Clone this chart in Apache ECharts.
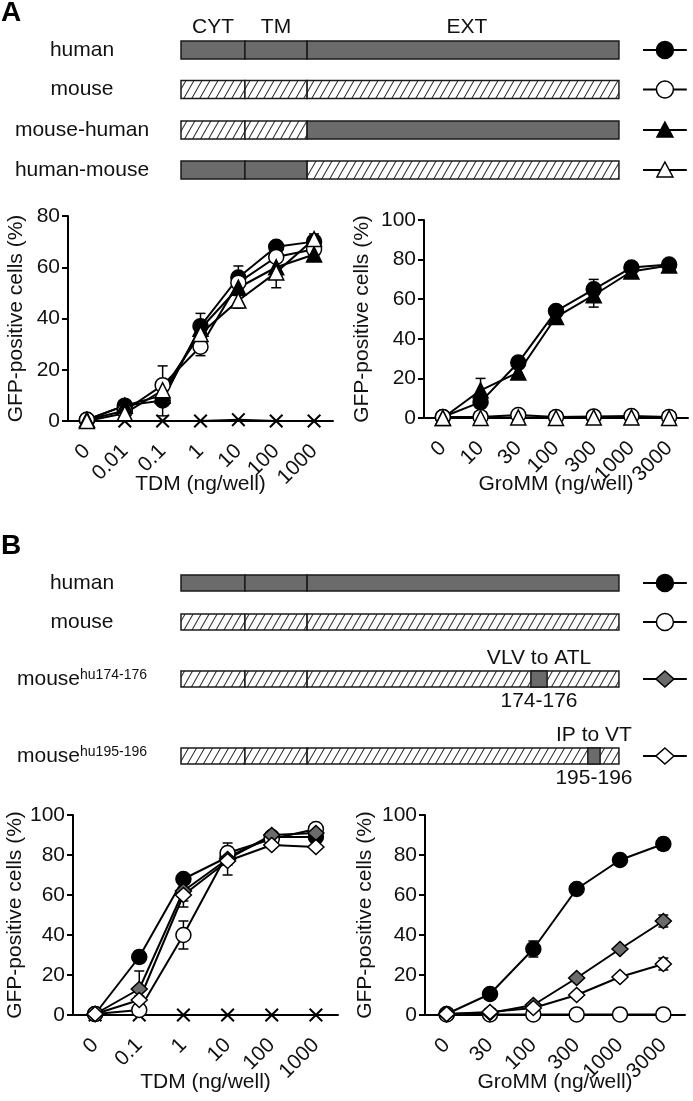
<!DOCTYPE html>
<html>
<head>
<meta charset="utf-8">
<script src="https://cdn.jsdelivr.net/npm/echarts@6/dist/echarts.min.js"></script>
<style>
html, body { margin: 0; background: #fff; }
#chart { width: 693px; height: 1101px; }
</style>
</head>
<body>
<div id="chart"></div>
<script>
// receptor schematic: domain edges along the bar, in % of its length
const domainNames = ['CYT', 'TM', 'EXT'];
const domainEdges = [0, 14.6, 28.8, 100];

const constructsA = ['human', 'mouse', 'mouse-human', 'human-mouse'];
const originA = [['hu', 'hu', 'hu'], ['mo', 'mo', 'mo'], ['mo', 'mo', 'hu'], ['hu', 'hu', 'mo']];
const markerA = ['circle', 'circle', 'triangle', 'triangle'];
const fillA = ['#000', '#fff', '#000', '#fff'];

const constructsB = ['human', 'mouse', 'mouse', 'mouse'];
const superB = ['', '', 'hu174-176', 'hu195-196'];
const originB = [['hu', 'hu', 'hu'], ['mo', 'mo', 'mo'], ['mo', 'mo', 'mo'], ['mo', 'mo', 'mo']];
const swapFrom = [null, null, 79.9, 92.9];
const swapTo = [null, null, 83.6, 95.7];
const swapAbove = ['', '', 'VLV to ATL', 'IP to VT'];
const swapBelow = ['', '', '174-176', '195-196'];
const markerB = ['circle', 'circle', 'diamond', 'diamond'];
const fillB = ['#000', '#fff', '#6b6b6b', '#fff'];

// dose response, GFP-positive cells (%)
const tdmDosesA = ['0', '0.01', '0.1', '1', '10', '100', '1000'];
const tdmA = [
  [0.5, 6, 8, 37, 56, 68, 70],    // human
  [0.5, 4, 14, 29, 54, 64, 67],   // mouse
  [0.5, 6, 10, 36, 52, 60, 65],   // mouse-human
  [0, 3, 12, 34, 47, 58, 71]      // human-mouse
];
const tdmErrA = [
  [0.5, 1, 6, 5, 4.5, 1.5, 2],
  [0.5, 1, 7.5, 3.5, 3, 2, 2],
  [0.5, 1, 3, 3, 3, 2, 2],
  [0.5, 1, 3, 3, 3, 6, 2]
];
const tdmNegA = [0, 0, 0, 0, 0.5, 0, 0];

const groDosesA = ['0', '10', '30', '100', '300', '1000', '3000'];
const groA = [
  [0.5, 8, 28, 54, 65, 76, 77.5],
  [0.5, 0.5, 1.5, 0.5, 0.8, 1, 0.5],
  [0, 14, 23, 51, 62, 74, 77],
  [0, 0, 0.3, 0, 0.3, 0.3, 0]
];
const groErrA = [
  [0.5, 3, 3, 2, 5, 1.5, 2],
  [0.5, 1, 1.5, 1, 1.5, 1.5, 1],
  [0.5, 6, 2, 2, 6, 1.5, 2],
  [0.5, 0.5, 0.5, 0.5, 0.5, 0.5, 0.5]
];
const groNegA = [0, 0, 0, 0, 0, 0, 0];

const tdmDosesB = ['0', '0.1', '1', '10', '100', '1000'];
const tdmB = [
  [0.5, 29, 68, 79, 89, 89],      // human
  [0.5, 2.5, 40, 81, 88, 93],     // mouse
  [0.5, 13, 62, 78, 90, 91],      // mouse hu174-176
  [0.5, 7.5, 60, 77, 85, 84]      // mouse hu195-196
];
const tdmErrB = [
  [0.5, 3, 2, 2, 1.5, 2],
  [0.5, 1, 7, 5, 1.5, 1.5],
  [0.5, 9, 8, 3, 1.5, 1.5],
  [0.5, 2, 3, 7, 1.5, 1.5]
];
const tdmNegB = [0, 0, 0, 0, 0, 0];

const groDosesB = ['0', '30', '100', '300', '1000', '3000'];
const groB = [
  [0.5, 10.5, 33, 63, 77.5, 85.5],
  [0.3, 0.3, 0.3, 0.3, 0.3, 0.3],
  [0.5, 1, 5, 18.5, 33, 47],
  [0.5, 1.5, 3.5, 10, 19, 25.5]
];
const groErrB = [
  [0.5, 1, 4, 1.5, 1.5, 3],
  [0.5, 0.5, 0.5, 0.5, 0.5, 0.5],
  [0.5, 0.5, 1, 1.5, 1.5, 3],
  [0.5, 0.5, 1, 1.5, 1.5, 3]
];

const FONT = 'Liberation Sans, Arial, sans-serif';
const INK = '#111';
const GREY = '#6b6b6b';
const crossPath = 'path://M2,0L10,8L18,0L20,2L12,10L20,18L18,20L10,12L2,20L0,18L8,10L0,2Z';

// diagonal hatch tile
const tile = document.createElement('canvas');
tile.width = 8; tile.height = 14;
const tc = tile.getContext('2d');
tc.fillStyle = '#fff'; tc.fillRect(0, 0, 8, 14);
tc.strokeStyle = '#333'; tc.lineWidth = 1.1;
tc.beginPath();
tc.moveTo(0, 14); tc.lineTo(8, 0);
tc.moveTo(-1, 1.75); tc.lineTo(1, -1.75);
tc.moveTo(7, 15.75); tc.lineTo(9, 12.25);
tc.stroke();
const hatch = { image: tile, repeat: 'repeat' };

function markerShape(kind, fill, cx, cy) {
  const style = { fill: fill, stroke: '#000', lineWidth: 1.5 };
  if (kind === 'circle') return { type: 'circle', shape: { cx: cx, cy: cy, r: 8.5 }, style: style };
  if (kind === 'triangle') return { type: 'polygon', shape: { points: [[cx, cy - 8], [cx + 8, cy + 7], [cx - 8, cy + 7]] }, style: style };
  return { type: 'polygon', shape: { points: [[cx, cy - 8], [cx + 9, cy], [cx, cy + 8], [cx - 9, cy]] }, style: style };
}

function txt(text, x, y) {
  return { type: 'text', style: { text: text, x: x, y: y, align: 'center', verticalAlign: 'middle', font: '21px ' + FONT, fill: INK } };
}

function schematicSeries(g, origins, marker, fill, k, heads) {
  return {
    type: 'custom', xAxisIndex: g, yAxisIndex: g, silent: true, data: [[0, 0]],
    renderItem: function (params, api) {
      const cs = params.coordSys;
      const top = cs.y, h = cs.height, cy = top + h / 2;
      const px = v => api.coord([v, 0])[0];
      const kids = [];
      for (let i = 0; i < domainNames.length; i++) {
        const x0 = px(domainEdges[i]), x1 = px(domainEdges[i + 1]);
        kids.push({ type: 'rect', shape: { x: x0, y: top, width: x1 - x0, height: h },
          style: { fill: origins[i] === 'hu' ? GREY : hatch, stroke: '#1a1a1a', lineWidth: 1.5 } });
        if (heads) kids.push(txt(domainNames[i], (x0 + x1) / 2 + (i === 2 ? 4 : 0), top - 14));
      }
      if (k != null && swapFrom[k] != null) {
        const s0 = px(swapFrom[k]), s1 = px(swapTo[k]);
        kids.push({ type: 'rect', shape: { x: s0, y: top, width: s1 - s0, height: h },
          style: { fill: GREY, stroke: '#1a1a1a', lineWidth: 1.5 } });
        kids.push(txt(swapAbove[k], (s0 + s1) / 2, cy - 21));
        kids.push(txt(swapBelow[k], (s0 + s1) / 2, cy + 22));
      }
      kids.push({ type: 'line', shape: { x1: px(105.5), y1: cy, x2: px(115.5), y2: cy }, style: { stroke: '#000', lineWidth: 2 } });
      kids.push(markerShape(marker, fill, px(110.5), cy));
      return { type: 'group', children: kids };
    }
  };
}

function errorSeries(g, values, errors) {
  const data = [];
  values.forEach((vals, s) => vals.forEach((v, i) => data.push([i, v, errors[s][i]])));
  return {
    type: 'custom', xAxisIndex: g, yAxisIndex: g, z: 2, silent: true, data: data,
    encode: { x: 0, y: 1 },
    renderItem: function (params, api) {
      const i = api.value(0), v = api.value(1), e = api.value(2);
      const hi = api.coord([i, v + e]), lo = api.coord([i, Math.max(0, v - e)]);
      const st = { stroke: '#000', lineWidth: 1.5 };
      return { type: 'group', children: [
        { type: 'line', shape: { x1: hi[0], y1: hi[1], x2: lo[0], y2: lo[1] }, style: st },
        { type: 'line', shape: { x1: hi[0] - 5, y1: hi[1], x2: hi[0] + 5, y2: hi[1] }, style: st },
        { type: 'line', shape: { x1: lo[0] - 5, y1: lo[1], x2: lo[0] + 5, y2: lo[1] }, style: st }
      ] };
    }
  };
}

function doseSeries(g, values, markers, fills, neg) {
  const out = [];
  if (neg) out.push({ type: 'line', xAxisIndex: g, yAxisIndex: g, z: 3, data: neg, symbol: crossPath, symbolSize: 14,
    itemStyle: { color: '#000' }, lineStyle: { color: '#000', width: 2 } });
  values.forEach((vals, s) => out.push({
    type: 'line', xAxisIndex: g, yAxisIndex: g, z: 3, data: vals, symbol: markers[s],
    symbolSize: markers[s] === 'diamond' ? [16, 15] : 15, showAllSymbol: true,
    itemStyle: { color: fills[s], borderColor: '#000', borderWidth: 1.5 },
    lineStyle: { color: '#000', width: 2 }
  }));
  return out;
}

const rowsA = [50, 89.5, 130, 170];
const rowsB = [583, 622, 679, 756];
const grids = [];
const xAxes = [];
const yAxes = [];
const series = [];

function addRow(center, h, label, sup, origins, marker, fill, k, heads) {
  const g = grids.length;
  grids.push({ left: 181, top: center - h / 2, width: 508, height: h, outerBoundsMode: 'none' });
  xAxes.push({ gridIndex: g, type: 'value', min: 0, max: 116, show: false });
  yAxes.push({ gridIndex: g, type: 'category', data: [label],
    axisLine: { show: false }, axisTick: { show: false },
    axisLabel: { align: 'center', margin: 99, fontFamily: FONT, fontSize: 21, color: INK,
      formatter: v => sup ? '{m|' + v + '}{s|' + sup + '}' : v,
      rich: { m: { fontFamily: FONT, fontSize: 21, color: INK },
              s: { fontFamily: FONT, fontSize: 14, color: INK, verticalAlign: 'top' } } } });
  series.push(schematicSeries(g, origins, marker, fill, k, heads));
}

constructsA.forEach((c, i) => addRow(rowsA[i], 18, c, '', originA[i], markerA[i], fillA[i], null, i === 0));
constructsB.forEach((c, i) => addRow(rowsB[i], 16, c, superB[i], originB[i], markerB[i], fillB[i], i, false));

function addChart(box, cats, yMax, xName, xGap, yGap, values, errors, markers, fills, neg) {
  const g = grids.length;
  box.outerBoundsMode = 'none';
  grids.push(box);
  xAxes.push({ gridIndex: g, type: 'category', data: cats,
    name: xName, nameLocation: 'middle', nameGap: xGap, nameMoveOverlap: false,
    nameTextStyle: { fontFamily: FONT, fontSize: 21, color: INK },
    axisLine: { lineStyle: { color: '#000', width: 2 } },
    axisTick: { length: 6, lineStyle: { color: '#000', width: 2 } },
    axisLabel: { interval: 0, rotate: 45, margin: 27, fontFamily: FONT, fontSize: 21, color: INK } });
  yAxes.push({ gridIndex: g, type: 'value', min: 0, max: yMax, interval: 20,
    name: 'GFP-positive cells (%)', nameLocation: 'middle', nameGap: yGap, nameMoveOverlap: false,
    nameTextStyle: { fontFamily: FONT, fontSize: 21, color: INK },
    axisLine: { show: true, lineStyle: { color: '#000', width: 2 } },
    axisTick: { show: true, length: 6, lineStyle: { color: '#000', width: 2 } },
    axisLabel: { margin: 8, fontFamily: FONT, fontSize: 21, color: INK },
    splitLine: { show: false } });
  series.push(errorSeries(g, values, errors));
  doseSeries(g, values, markers, fills, neg).forEach(s => series.push(s));
}

addChart({ left: 68, top: 216, width: 265, height: 205 }, tdmDosesA, 80, 'TDM (ng/well)', 53, 41, tdmA, tdmErrA, markerA, fillA, tdmNegA);
addChart({ left: 424, top: 220, width: 264, height: 198 }, groDosesA, 100, 'GroMM (ng/well)', 56, 51, groA, groErrA, markerA, fillA, groNegA);
addChart({ left: 73, top: 815, width: 265, height: 200 }, tdmDosesB, 100, 'TDM (ng/well)', 57, 47, tdmB, tdmErrB, markerB, fillB, tdmNegB);
addChart({ left: 425, top: 815, width: 260, height: 200 }, groDosesB, 100, 'GroMM (ng/well)', 57, 49, groB, groErrB, markerB, fillB, null);

const chart = echarts.init(document.getElementById('chart'));
chart.setOption({
  animation: false,
  backgroundColor: '#fff',
  textStyle: { fontFamily: FONT },
  title: [
    { text: 'A', left: 1, top: -1, padding: 0, textStyle: { fontFamily: FONT, fontSize: 28, fontWeight: 'bold', color: '#000' } },
    { text: 'B', left: 1, top: 532, padding: 0, textStyle: { fontFamily: FONT, fontSize: 28, fontWeight: 'bold', color: '#000' } }
  ],
  grid: grids,
  xAxis: xAxes,
  yAxis: yAxes,
  series: series
});
</script>
</body>
</html>
